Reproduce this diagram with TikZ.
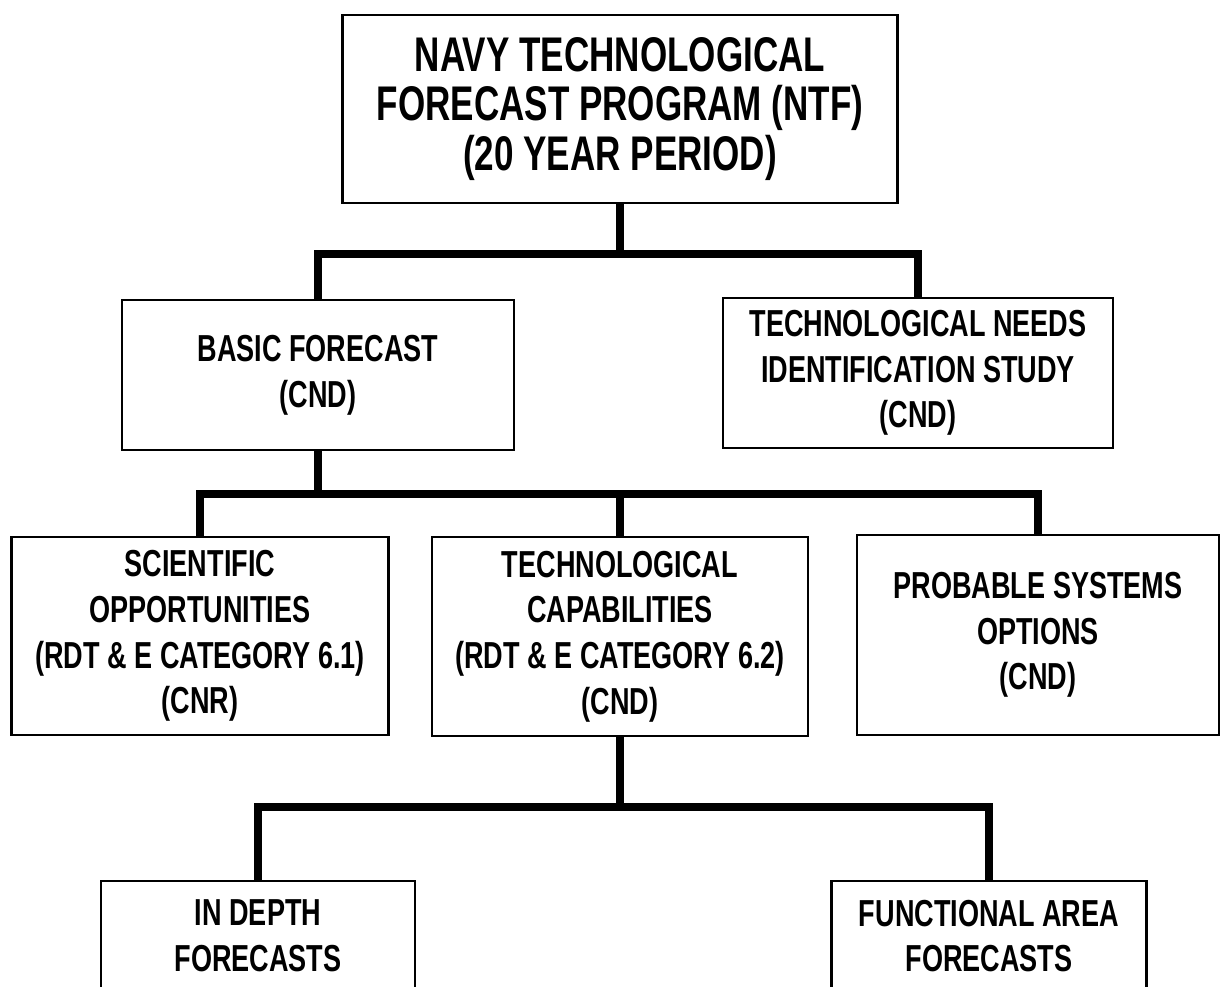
\documentclass[tikz,border=0pt]{standalone}
\usepackage{fontspec}
\newfontfamily\condfont{Liberation Sans}[FakeStretch=0.72]
\usetikzlibrary{positioning, calc}

\begin{document}
\begin{tikzpicture}[x=0.02cm, y=-0.02cm,
    box/.style={draw, line width=1.6pt, inner sep=0pt, align=center,
      font=\condfont\bfseries\fontsize{21.4}{26}\selectfont},
    link/.style={line width=4.5pt}]
  \useasboundingbox (0,0) rectangle (1221,987);
  \clip (0,0) rectangle (1221,987);

  % Top level
  \node[box, minimum width=11.1cm, minimum height=3.76cm,
    font=\condfont\bfseries\fontsize{27.7}{28.3}\selectfont] (ntf) at (620,109)
    {NAVY TECHNOLOGICAL\\FORECAST PROGRAM (NTF)\\(20 YEAR PERIOD)};

  % Second level
  \node[box, minimum width=7.84cm, minimum height=3cm] (basic) at (318,375)
    {BASIC FORECAST\\(CND)};
  \node[box, minimum width=7.8cm, minimum height=3cm] (tnis) at (918,373)
    {TECHNOLOGICAL NEEDS\\IDENTIFICATION STUDY\\(CND)};

  % Third level
  \node[box, minimum width=7.54cm, minimum height=3.96cm] (sci) at (200,636)
    {SCIENTIFIC\\OPPORTUNITIES\\(RDT \& E CATEGORY 6.1)\\(CNR)};
  \node[box, minimum width=7.52cm, minimum height=3.98cm] (tcap) at (620,636.5)
    {TECHNOLOGICAL\\CAPABILITIES\\(RDT \& E CATEGORY 6.2)\\(CND)};
  \node[box, minimum width=7.24cm, minimum height=4cm] (pso) at (1038,635)
    {PROBABLE SYSTEMS\\OPTIONS\\(CND)};

  % Bottom level (runs off the page)
  \node[box, minimum width=6.28cm, minimum height=2.2cm] (indepth) at (258,936)
    {IN DEPTH\\FORECASTS};
  \node[box, minimum width=6.3cm, minimum height=2.2cm] (funct) at (989,936)
    {FUNCTIONAL AREA\\FORECASTS};

  % Connectors
  \coordinate (bar1) at (0,254);
  \coordinate (bar2) at (0,494);
  \coordinate (bar3) at (0,807);

  \draw[link] (ntf.south) -- (ntf.south |- bar1);
  \draw[link] (basic.north) |- (tnis.north |- bar1) -- (tnis.north);

  \draw[link] (basic.south) -- (basic.south |- bar2);
  \draw[link] (sci.north) |- (pso.north |- bar2) -- (pso.north);
  \draw[link] (tcap.north) -- (tcap.north |- bar2);

  \draw[link] (tcap.south) -- (tcap.south |- bar3);
  \draw[link] (indepth.north) |- (funct.north |- bar3) -- (funct.north);
\end{tikzpicture}
\end{document}
